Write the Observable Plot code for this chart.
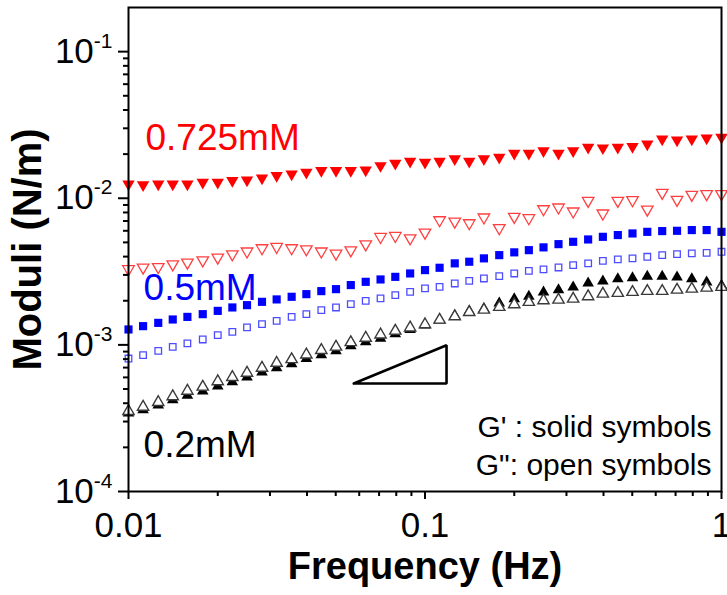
<!DOCTYPE html>
<html>
<head>
<meta charset="utf-8">
<script src="https://cdn.jsdelivr.net/npm/d3@7"></script>
<script src="https://cdn.jsdelivr.net/npm/@observablehq/plot@0.6"></script>
<style>
  body { margin: 0; background: #fff; }
  #chart svg { font-family: "Liberation Sans", Arial, sans-serif; display: block; }
</style>
</head>
<body>
<div id="chart"></div>
<script>
// Frequency grid (Hz)
const freq = [0.01, 0.0112, 0.0126, 0.0141, 0.0158, 0.0178, 0.02, 0.0224, 0.0251, 0.0282,
  0.0316, 0.0355, 0.0398, 0.0447, 0.0501, 0.0562, 0.0631, 0.0708, 0.0794, 0.0891,
  0.1, 0.112, 0.126, 0.141, 0.158, 0.178, 0.2, 0.224, 0.251, 0.282,
  0.316, 0.355, 0.398, 0.447, 0.501, 0.562, 0.631, 0.708, 0.794, 0.891, 1.0];

// 0.725 mM
const gStorage725 = [0.01250, 0.01236, 0.01250, 0.01250, 0.01250, 0.01282, 0.01282, 0.01318, 0.01330, 0.01374,
  0.01426, 0.01462, 0.01503, 0.01542, 0.01542, 0.01542, 0.01556, 0.01667, 0.01730, 0.01786,
  0.01758, 0.01786, 0.01854, 0.01786, 0.01854, 0.01901, 0.02023, 0.02023, 0.02109, 0.02023,
  0.02109, 0.02223, 0.02203, 0.02223, 0.02249, 0.02344, 0.02535, 0.02495, 0.02535, 0.02576, 0.02606];
const gLoss725 = [0.003289, 0.003373, 0.003404, 0.003553, 0.003648, 0.003784, 0.003951, 0.004159, 0.004345, 0.004571,
  0.004667, 0.004571, 0.004498, 0.004345, 0.004207, 0.004426, 0.004864, 0.005458, 0.005546, 0.005346,
  0.005848, 0.007096, 0.006950, 0.006771, 0.007413, 0.006266, 0.007482, 0.007328, 0.008436, 0.008670,
  0.008145, 0.009616, 0.007888, 0.009616, 0.009727, 0.008393, 0.010914, 0.009772, 0.010568, 0.010690, 0.010690];

// 0.5 mM
const gStorage05 = [0.001274, 0.001342, 0.001413, 0.001490, 0.001552, 0.001620, 0.001706, 0.001800, 0.001866, 0.001966,
  0.002042, 0.002128, 0.002218, 0.002326, 0.002399, 0.002558, 0.002692, 0.002794, 0.002911, 0.003070,
  0.003235, 0.003357, 0.003597, 0.003690, 0.003891, 0.004093, 0.004276, 0.004426, 0.004624, 0.004864,
  0.005047, 0.005236, 0.005458, 0.005610, 0.005754, 0.005902, 0.005970, 0.005998, 0.006067, 0.006067, 0.005902];
const gLoss05 = [0.000807, 0.000851, 0.000910, 0.000969, 0.001023, 0.001089, 0.001165, 0.001227, 0.001315, 0.001384,
  0.001459, 0.001552, 0.001620, 0.001726, 0.001800, 0.001897, 0.001995, 0.002075, 0.002183, 0.002301,
  0.002427, 0.002489, 0.002624, 0.002735, 0.002838, 0.002944, 0.003070, 0.003199, 0.003273, 0.003373,
  0.003499, 0.003597, 0.003741, 0.003828, 0.003891, 0.003990, 0.004093, 0.004159, 0.004207, 0.004246, 0.004315];

// 0.2 mM
const gStorage02 = [0.000342, 0.000360, 0.000388, 0.000421, 0.000452, 0.000483, 0.000523, 0.000558, 0.000602, 0.000652,
  0.000696, 0.000741, 0.000805, 0.000853, 0.000910, 0.000984, 0.001047, 0.001107, 0.001189, 0.001271,
  0.001362, 0.001475, 0.001582, 0.001698, 0.001762, 0.001927, 0.002061, 0.002138, 0.002291, 0.002372,
  0.002477, 0.002636, 0.002722, 0.002818, 0.002864, 0.002931, 0.002931, 0.002897, 0.002818, 0.002679, 0.002541];
const gLoss02 = [0.000353, 0.000377, 0.000406, 0.000445, 0.000485, 0.000517, 0.000563, 0.000602, 0.000643, 0.000696,
  0.000752, 0.000796, 0.000857, 0.000920, 0.000969, 0.001040, 0.001114, 0.001174, 0.001246, 0.001310,
  0.001377, 0.001482, 0.001563, 0.001671, 0.001734, 0.001809, 0.001888, 0.001956, 0.002009, 0.002028,
  0.002061, 0.002138, 0.002228, 0.002254, 0.002291, 0.002326, 0.002326, 0.002372, 0.002410, 0.002449, 0.002477];

// Ticks
const xMajorTicks = [0.01, 0.1, 1];
const xMinorTicks = [0.02, 0.03, 0.04, 0.05, 0.06, 0.07, 0.08, 0.09, 0.2, 0.3, 0.4, 0.5, 0.6, 0.7, 0.8, 0.9];
const yMajorTicks = [1e-4, 1e-3, 1e-2, 1e-1];
const yMinorTicks = [2e-4, 3e-4, 4e-4, 5e-4, 6e-4, 7e-4, 8e-4, 9e-4,
  2e-3, 3e-3, 4e-3, 5e-3, 6e-3, 7e-3, 8e-3, 9e-3,
  2e-2, 3e-2, 4e-2, 5e-2, 6e-2, 7e-2, 8e-2, 9e-2];

// Annotations (data coordinates)
const seriesLabels = ["0.725mM", "0.5mM", "0.2mM"];
const seriesLabelX = [0.01141, 0.01124, 0.01124];
const seriesLabelY = [0.02555, 0.002419, 0.000206];
const seriesColors = ["#ff0000", "#0000ff", "#000000"];
const noteLines = ["G' : solid symbols", "G\": open symbols"];
const noteX = [0.9254, 0.9254];
const noteY = [0.0002726, 0.0001505];
const slopeX = [0.0575, 0.1182, 0.1182, 0.0575];
const slopeY = [0.000545, 0.000545, 0.000995, 0.000545];

const rows = (vals) => freq.map((f, i) => ({f, v: vals[i]}));

const labelMark = (i) => Plot.text([seriesLabels[i]], {
  x: () => seriesLabelX[i], y: () => seriesLabelY[i], text: d => d,
  fill: seriesColors[i], fontSize: 37, textAnchor: "start", lineAnchor: "middle"
});

const chart = Plot.plot({
  width: 727,
  height: 595,
  marginLeft: 128,
  marginRight: 6,
  marginTop: 7,
  marginBottom: 104,
  style: {fontFamily: "'Liberation Sans', Arial, sans-serif", color: "#000", background: "#fff", overflow: "visible"},
  x: {type: "log", domain: [0.01, 1]},
  y: {type: "log", domain: [1e-4, 0.2]},
  marks: [
    Plot.dot(rows(gStorage725), {x: "f", y: "v", symbol: "triangle", rotate: 180, r: 4.6, fill: "#ff0000", stroke: "none"}),
    Plot.dot(rows(gLoss725), {x: "f", y: "v", symbol: "triangle", rotate: 180, r: 4.3, fill: "white", stroke: "#ff4040", strokeWidth: 1.3}),
    Plot.dot(rows(gStorage05), {x: "f", y: "v", symbol: "square", r: 4.6, fill: "#0000ff", stroke: "none"}),
    Plot.dot(rows(gLoss05), {x: "f", y: "v", symbol: "square", r: 3.7, fill: "white", stroke: "#4d4dff", strokeWidth: 1.3}),
    Plot.dot(rows(gStorage02), {x: "f", y: "v", symbol: "triangle", r: 4.3, fill: "#000", stroke: "none"}),
    Plot.dot(rows(gLoss02), {x: "f", y: "v", symbol: "triangle", r: 4.2, fill: "white", stroke: "#3a3a3a", strokeWidth: 1.4}),
    Plot.line(slopeX.map((x, i) => ({x, y: slopeY[i]})), {x: "x", y: "y", stroke: "#000", strokeWidth: 2.6, strokeLinejoin: "miter"}),
    labelMark(0), labelMark(1), labelMark(2),
    Plot.text(noteLines, {x: (d, i) => noteX[i], y: (d, i) => noteY[i], text: d => d, fontSize: 30, textAnchor: "end", lineAnchor: "middle", fill: "#000"}),
    Plot.frame({stroke: "#000", strokeWidth: 2}),
    Plot.axisX({ticks: xMinorTicks, tickSize: 5, text: null, label: null, strokeWidth: 2}),
    Plot.axisX({ticks: xMajorTicks, tickSize: 8, tickPadding: 13, tickFormat: d => String(d), fontSize: 35, label: null, strokeWidth: 2}),
    Plot.axisY({ticks: yMinorTicks, tickSize: 5, text: null, label: null, strokeWidth: 2}),
    Plot.axisY({ticks: yMajorTicks, tickSize: 10, tickPadding: 6, tickFormat: d => "10^" + Math.round(Math.log10(d)), fontSize: 35, label: null, strokeWidth: 2}),
    Plot.text(["Frequency (Hz)"], {frameAnchor: "bottom", dy: 75, text: d => d, fontSize: 38, fontWeight: "bold", textAnchor: "middle", lineAnchor: "middle"}),
    Plot.text(["Moduli (N/m)"], {frameAnchor: "left", dx: -100, rotate: -90, text: d => d, fontSize: 40, fontWeight: "bold", textAnchor: "middle", lineAnchor: "middle"})
  ]
});

// Render superscript exponents on the y tick labels
const ns = "http://www.w3.org/2000/svg";
chart.querySelectorAll("text").forEach(t => {
  const s = t.textContent;
  if (/^10\^-?\d+$/.test(s)) {
    const [base, exp] = s.split("^");
    t.textContent = "";
    const a = document.createElementNS(ns, "tspan");
    a.textContent = base;
    const b = document.createElementNS(ns, "tspan");
    b.setAttribute("dy", "-15");
    b.setAttribute("font-size", "21");
    b.textContent = exp;
    t.append(a, b);
  }
});

document.getElementById("chart").append(chart);
</script>
</body>
</html>
